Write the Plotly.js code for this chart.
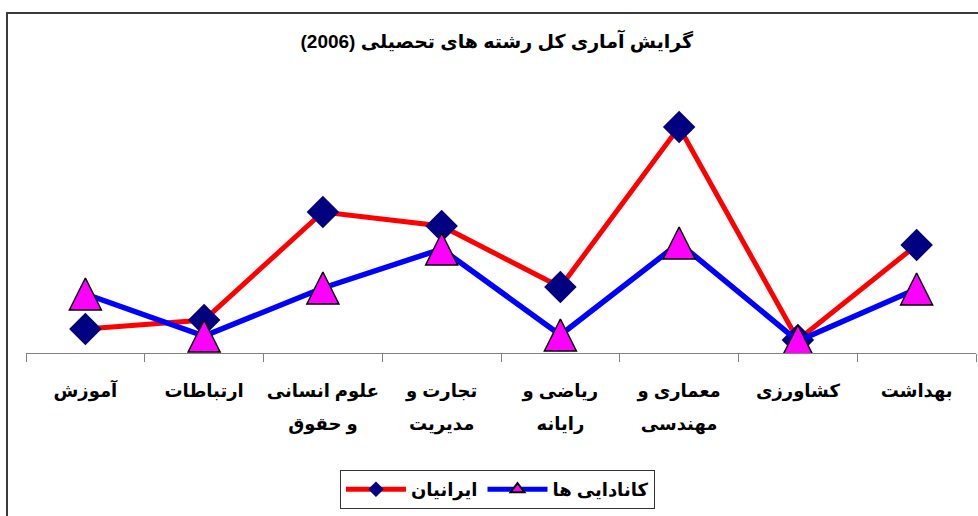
<!DOCTYPE html>
<html>
<head>
<meta charset="utf-8">
<script src="https://cdn.plot.ly/plotly-3.0.1.min.js"></script>
<style>
  html, body { margin: 0; padding: 0; background: #ffffff; }
  #chart { width: 978px; height: 516px; }
</style>
</head>
<body>
<div id="chart"></div>
<script>
// ---- data ----
const categories = [
  "آموزش",
  "ارتباطات",
  "علوم انسانی<br>و حقوق",
  "تجارت و<br>مدیریت",
  "ریاضی و<br>رایانه",
  "معماری و<br>مهندسی",
  "کشاورزی",
  "بهداشت"
];
const iranians  = [2.4, 3.3, 14.1, 12.7, 6.6, 22.6, 1.3, 10.8];
const canadians = [5.9, 1.7, 6.5, 10.4, 1.8, 11.0, 1.2, 6.4];
const seriesNames = ["ایرانیان", "کانادایی ها"];
const chartTitle = "گرایش آماری کل رشته های تحصیلی (2006)";

const FONT = "Liberation Sans, Arial, DejaVu Sans, sans-serif";
const tickText = categories.map(c =>
  c.split("<br>").map(s => '<span style="font-size:18px">' + s + '</span>').join("<br>")
);

const traces = [
  {
    type: "scatter", mode: "lines+markers",
    name: seriesNames[0],
    x: categories, y: iranians,
    line: { color: "#FF0000", width: 5 },
    marker: { symbol: "diamond", size: 25, color: "#000080", line: { width: 0 } }
  },
  {
    type: "scatter", mode: "lines+markers",
    name: seriesNames[1],
    x: categories, y: canadians,
    showlegend: false,
    line: { color: "#0000FF", width: 5.5 },
    marker: { symbol: "arrow-down", angle: 180, standoff: 16, size: 32,
              color: "#FF00FF", line: { color: "#000000", width: 1.5 } }
  },
  {
    // legend entry for the second series (its plot markers are drawn by the trace above)
    type: "scatter", mode: "lines+markers",
    name: seriesNames[1],
    x: [null], y: [null],
    showlegend: true, hoverinfo: "skip",
    line: { color: "#0000FF", width: 5 },
    marker: { symbol: "triangle-up", size: 16, color: "#FF00FF",
              line: { color: "#000000", width: 1.5 } }
  }
];

const layout = {
  width: 978, height: 516,
  margin: { l: 26, r: 2, t: 103, b: 163 },
  paper_bgcolor: "#ffffff", plot_bgcolor: "#ffffff",
  font: { family: FONT, color: "#000000", weight: "bold" },
  title: {
    text: chartTitle,
    font: { family: FONT, size: 19, color: "#000000", weight: "bold" },
    x: 0.508, xref: "container", xanchor: "center",
    y: 0.919, yref: "container", yanchor: "middle"
  },
  xaxis: {
    type: "category",
    range: [-0.5, 7.5],
    tickmode: "array", tickvals: categories, ticktext: tickText,
    tickson: "boundaries",
    ticks: "outside", ticklen: 8, tickwidth: 1, tickcolor: "#808080",
    showline: true, linecolor: "#808080", linewidth: 1,
    showgrid: false, zeroline: false, tickangle: 0,
    ticklabelstandoff: 13,
    tickfont: { family: FONT, size: 25, color: "#000000", weight: "bold" },
    fixedrange: true
  },
  yaxis: {
    range: [0, 25], visible: false, fixedrange: true
  },
  showlegend: true,
  legend: {
    orientation: "h",
    x: 0.3305, xanchor: "left",
    y: -0.468, yanchor: "top",
    bgcolor: "#ffffff", bordercolor: "#333333", borderwidth: 1,
    font: { family: FONT, size: 18, color: "#000000", weight: "bold" },
    itemwidth: 60, itemsizing: "constant"
  },
  shapes: [
    { type: "rect", xref: "paper", yref: "paper",
      x0: -0.02, x1: 1.05, y0: -0.8, y1: 1.36,
      line: { color: "#3a3a3a", width: 2 }, fillcolor: "rgba(0,0,0,0)", layer: "below" }
  ]
};

Plotly.newPlot("chart", traces, layout, { displayModeBar: false, staticPlot: true });
</script>
</body>
</html>
